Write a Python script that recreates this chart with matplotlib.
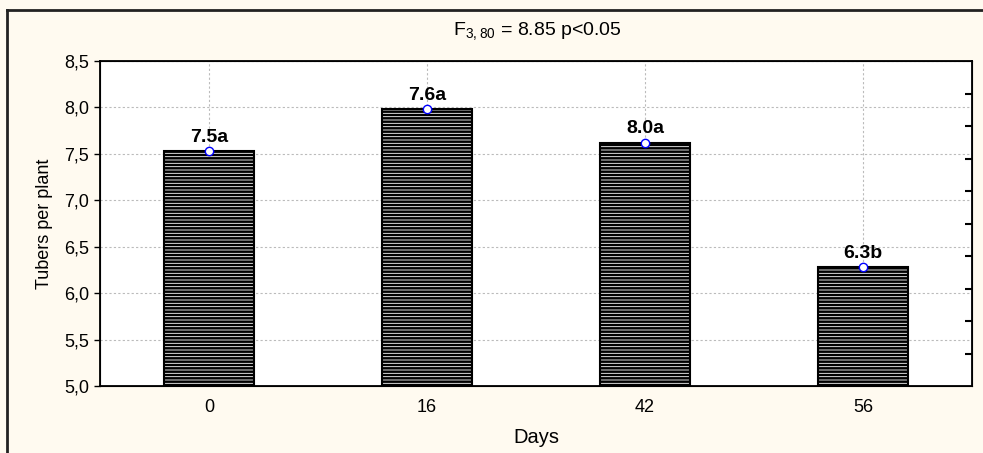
import numpy as np
import matplotlib
matplotlib.use('Agg')
import matplotlib.pyplot as plt
from matplotlib.lines import Line2D

days = ['0', '16', '42', '56']
tubers = [7.53, 7.98, 7.62, 6.28]
bar_labels = ['7.5a', '7.6a', '8.0a', '6.3b']
yticks = [5.0, 5.5, 6.0, 6.5, 7.0, 7.5, 8.0, 8.5]
ytick_labels = ['5,0', '5,5', '6,0', '6,5', '7,0', '7,5', '8,0', '8,5']

plt.rcParams['font.family'] = ['Liberation Sans', 'DejaVu Sans']
plt.rcParams['hatch.linewidth'] = 1.8
plt.rcParams['hatch.color'] = 'black'

fig = plt.figure(figsize=(9.83, 4.53), dpi=100, facecolor='#FFFAF0')
ax = fig.add_axes([0.1017, 0.1479, 0.8871, 0.7174])
ax.set_facecolor('white')

x = np.arange(len(days))
ax.bar(x, tubers, width=0.41, bottom=0, facecolor='white', edgecolor='black',
       linewidth=1.5, hatch='-----', zorder=2)
ax.plot(x, tubers, 'o', ms=6, mfc='white', mec='blue', mew=1.0, zorder=4)

for a, b, t in zip(x, tubers, bar_labels):
    ax.annotate(t, (a, b), xytext=(0, 4), textcoords='offset points',
                ha='center', va='bottom', fontsize=14, fontweight='bold')

ax.set_xlim(-0.5, 3.5)
ax.set_ylim(5.0, 8.5)
ax.set_xticks(x)
ax.set_xticklabels(days, fontsize=13)
ax.set_yticks(yticks)
ax.set_yticklabels(ytick_labels, fontsize=13)
ax.tick_params(axis='x', direction='in', length=4, width=1, pad=9)
ax.tick_params(axis='y', direction='out', length=4, width=1, pad=4)
ax.set_axisbelow(True)
ax.grid(True, linestyle=(0, (2, 2)), color='#BBBBBB', linewidth=0.8)
for s in ax.spines.values():
    s.set_linewidth(1.3)

ax.set_xlabel('Days', fontsize=14.5, labelpad=9)
ax.set_ylabel('Tubers per plant', fontsize=13, labelpad=8)
fig.text(0.547, 1 - 31 / 453, r'$\mathregular{F_{3,80}}$ = 8.85 p<0.05',
         fontsize=14, ha='center', va='center')

# right side ticks without labels
ax2 = ax.twinx()
ax2.set_ylim(0, 10)
ax2.set_yticks(np.arange(1, 10))
ax2.tick_params(axis='y', direction='in', length=5, width=1.5, labelright=False)

# outer frame (left and top)
fig.add_artist(Line2D([0.0071, 0.0071], [0.0, 0.978], color='#222222', lw=2))
fig.add_artist(Line2D([0.0071, 1.0], [0.978, 0.978], color='#222222', lw=2))

fig.savefig('out.png', dpi=100, facecolor=fig.get_facecolor())
